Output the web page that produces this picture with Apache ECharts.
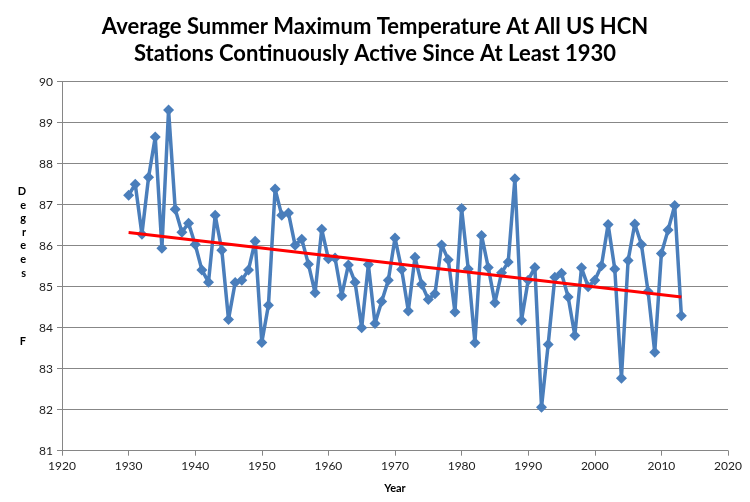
<!DOCTYPE html>
<html><head><meta charset="utf-8">
<script src="https://cdn.jsdelivr.net/npm/echarts@6/dist/echarts.min.js"></script>
<style>html,body{margin:0;padding:0;background:#fff}#c{width:750px;height:502px}</style>
</head><body><div id="c"></div>
<script>
const years = [1930,1931,1932,1933,1934,1935,1936,1937,1938,1939,1940,1941,1942,1943,1944,1945,1946,1947,1948,1949,
1950,1951,1952,1953,1954,1955,1956,1957,1958,1959,1960,1961,1962,1963,1964,1965,1966,1967,1968,1969,
1970,1971,1972,1973,1974,1975,1976,1977,1978,1979,1980,1981,1982,1983,1984,1985,1986,1987,1988,1989,
1990,1991,1992,1993,1994,1995,1996,1997,1998,1999,2000,2001,2002,2003,2004,2005,2006,2007,2008,2009,
2010,2011,2012,2013];
const temps = [87.23,87.50,86.28,87.67,88.65,85.94,89.31,86.89,86.33,86.55,86.03,85.41,85.11,86.74,85.89,84.20,85.10,85.16,85.41,86.11,
83.64,84.55,87.38,86.74,86.80,86.01,86.16,85.55,84.85,86.40,85.68,85.70,84.78,85.53,85.11,84.00,85.54,84.10,84.64,85.16,
86.19,85.42,84.41,85.72,85.06,84.69,84.83,86.02,85.66,84.38,86.91,85.43,83.63,86.25,85.47,84.61,85.34,85.60,87.63,84.18,
85.16,85.47,82.06,83.59,85.23,85.33,84.75,83.81,85.46,85.00,85.16,85.51,86.52,85.43,82.77,85.64,86.53,86.03,84.88,83.40,
85.81,86.38,86.98,84.29];
const trendYears = [1930, 2013];
const trendValues = [86.32, 84.75];

const chart = echarts.init(document.getElementById('c'));
const lblFont = 'Lato, "Open Sans", sans-serif';
chart.setOption({
  animation: false,
  title: {
    text: 'Average Summer Maximum Temperature At All US HCN\nStations Continuously Active Since At Least 1930',
    left: 'center', top: 8,
    textStyle: {fontFamily: lblFont, fontWeight: 'bold', fontSize: 22, lineHeight: 27, color: '#000'}
  },
  grid: {left: 62, right: 22, top: 81.7, bottom: 51.3},
  xAxis: {
    type: 'value', min: 1920, max: 2020, interval: 10,
    name: 'Year', nameLocation: 'middle', nameGap: 32,
    nameTextStyle: {fontFamily: lblFont, fontWeight: 'bold', fontSize: 11, color: '#000'},
    axisLine: {lineStyle: {color: '#868686', width: 1}},
    axisTick: {show: true, length: 5, lineStyle: {color: '#868686'}},
    axisLabel: {fontFamily: lblFont, fontSize: 12, color: '#222', margin: 9, formatter: v => String(v)},
    splitLine: {show: false}
  },
  yAxis: {
    type: 'value', min: 81, max: 90, interval: 1,
    name: 'D\ne\ng\nr\ne\ne\ns\n\n\n\n\nF', nameLocation: 'middle', nameRotate: 0, nameGap: 36,
    nameTextStyle: {fontFamily: lblFont, fontWeight: 'bold', fontSize: 11, lineHeight: 13.6, color: '#000'},
    axisLine: {show: true, lineStyle: {color: '#868686', width: 1}},
    axisTick: {show: true, length: 5, lineStyle: {color: '#868686'}},
    axisLabel: {fontFamily: lblFont, fontSize: 12, color: '#222', margin: 9},
    splitLine: {show: true, lineStyle: {color: '#878787', width: 1}}
  },
  series: [
    {
      type: 'line', data: years.map((y, i) => [y, temps[i]]),
      symbol: 'diamond', symbolSize: 11,
      lineStyle: {color: '#4a7ebb', width: 3.5},
      itemStyle: {color: '#4a7ebb'},
      z: 2
    },
    {
      type: 'line', data: trendYears.map((y, i) => [y, trendValues[i]]),
      symbol: 'none', lineStyle: {color: '#ff0000', width: 3}, z: 3
    }
  ]
});
</script></body></html>
